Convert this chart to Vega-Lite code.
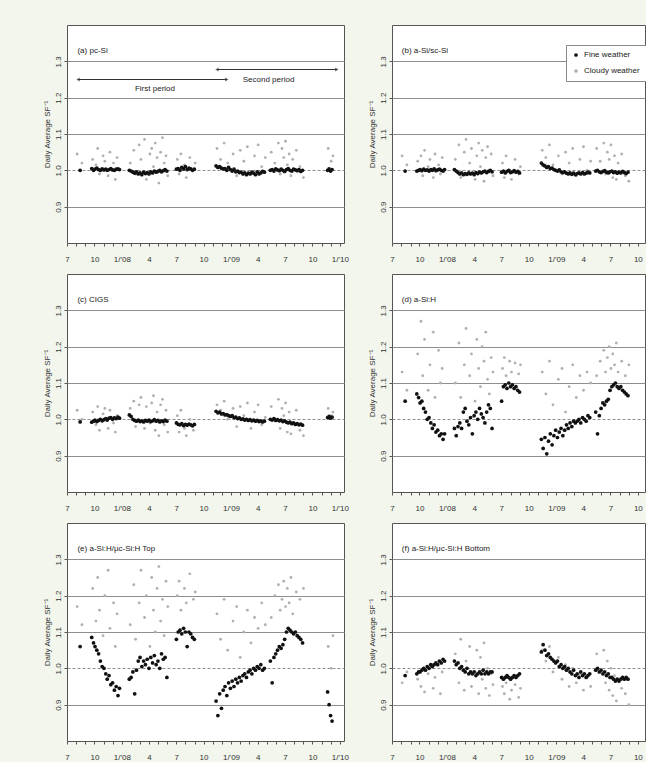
{
"$schema": "https://vega.github.io/schema/vega-lite/v6.json",
"background": "#f2f6ec",
"padding": {"left": 42, "top": 24, "right": 0, "bottom": 0},
"config": {
  "font": "Liberation Sans",
  "view": {"stroke": "#555555", "strokeWidth": 1, "fill": "white"},
  "axis": {"labelColor": "#333333", "tickColor": "#555555", "titleColor": "#333333"}
},
"datasets": {
"pts": [
{"t":"2007-08-14","w":"F","a":1.0,"b":0.998,"c":0.993,"d":1.05,"e":1.06,"f":0.98},
{"t":"2007-09-22","w":"F","a":1.005,"b":0.998,"c":0.992,"d":1.07,"e":1.085,"f":0.985},
{"t":"2007-09-28","w":"F","a":1.0,"b":1.0,"c":0.995,"d":1.06,"e":1.07,"f":0.99},
{"t":"2007-10-03","w":"F","a":1.003,"b":1.002,"c":0.998,"d":1.045,"e":1.06,"f":0.99},
{"t":"2007-10-09","w":"F","a":1.006,"b":0.999,"c":0.994,"d":1.05,"e":1.05,"f":0.995},
{"t":"2007-10-15","w":"F","a":1.002,"b":1.003,"c":0.997,"d":1.03,"e":1.04,"f":1.0},
{"t":"2007-10-21","w":"F","a":1.0,"b":1.0,"c":1.0,"d":1.02,"e":1.02,"f":0.995},
{"t":"2007-10-27","w":"F","a":1.004,"b":1.001,"c":0.996,"d":1.0,"e":1.005,"f":1.005},
{"t":"2007-11-02","w":"F","a":1.001,"b":0.998,"c":0.999,"d":1.005,"e":1.0,"f":1.0},
{"t":"2007-11-08","w":"F","a":1.003,"b":1.002,"c":1.002,"d":0.99,"e":0.985,"f":1.01},
{"t":"2007-11-13","w":"F","a":1.0,"b":1.0,"c":0.998,"d":0.975,"e":0.97,"f":1.005},
{"t":"2007-11-19","w":"F","a":1.002,"b":1.004,"c":1.003,"d":0.985,"e":0.98,"f":1.01},
{"t":"2007-11-25","w":"F","a":1.005,"b":0.999,"c":1.005,"d":0.965,"e":0.955,"f":1.015},
{"t":"2007-12-01","w":"F","a":1.001,"b":1.001,"c":1.0,"d":0.97,"e":0.96,"f":1.01},
{"t":"2007-12-07","w":"F","a":1.0,"b":1.003,"c":1.004,"d":0.955,"e":0.94,"f":1.02},
{"t":"2007-12-13","w":"F","a":1.003,"b":1.0,"c":1.002,"d":0.96,"e":0.95,"f":1.015},
{"t":"2007-12-19","w":"F","a":1.004,"b":0.998,"c":1.006,"d":0.945,"e":0.925,"f":1.025},
{"t":"2007-12-24","w":"F","a":1.002,"b":1.002,"c":1.003,"d":0.96,"e":0.945,"f":1.02},
{"t":"2008-01-26","w":"F","a":1.0,"b":1.002,"c":1.012,"d":0.975,"e":0.97,"f":1.02},
{"t":"2008-02-01","w":"F","a":0.998,"b":0.998,"c":1.008,"d":0.955,"e":0.975,"f":1.01},
{"t":"2008-02-07","w":"F","a":0.995,"b":0.994,"c":1.0,"d":0.98,"e":0.99,"f":1.015},
{"t":"2008-02-13","w":"F","a":0.992,"b":0.99,"c":0.997,"d":0.99,"e":0.93,"f":1.0},
{"t":"2008-02-19","w":"F","a":0.996,"b":0.993,"c":0.995,"d":0.975,"e":0.995,"f":1.005},
{"t":"2008-02-25","w":"F","a":0.99,"b":0.988,"c":0.998,"d":1.02,"e":1.02,"f":0.995},
{"t":"2008-03-02","w":"F","a":0.993,"b":0.991,"c":0.994,"d":1.03,"e":1.03,"f":0.99},
{"t":"2008-03-08","w":"F","a":0.988,"b":0.989,"c":0.996,"d":0.995,"e":1.005,"f":1.0},
{"t":"2008-03-14","w":"F","a":0.995,"b":0.993,"c":0.993,"d":0.985,"e":1.02,"f":0.985},
{"t":"2008-03-20","w":"F","a":0.991,"b":0.99,"c":0.997,"d":1.005,"e":1.01,"f":0.99},
{"t":"2008-03-26","w":"F","a":0.994,"b":0.992,"c":0.995,"d":0.96,"e":1.025,"f":0.985},
{"t":"2008-04-01","w":"F","a":0.99,"b":0.988,"c":0.998,"d":1.01,"e":1.0,"f":0.99},
{"t":"2008-04-07","w":"F","a":0.996,"b":0.994,"c":0.994,"d":1.02,"e":1.03,"f":0.98},
{"t":"2008-04-13","w":"F","a":0.993,"b":0.991,"c":0.996,"d":1.0,"e":1.015,"f":0.985},
{"t":"2008-04-19","w":"F","a":0.998,"b":0.995,"c":0.999,"d":1.03,"e":1.035,"f":0.99},
{"t":"2008-04-25","w":"F","a":0.995,"b":0.993,"c":0.995,"d":1.015,"e":1.01,"f":0.985},
{"t":"2008-05-01","w":"F","a":0.997,"b":0.996,"c":0.997,"d":1.005,"e":1.02,"f":0.995},
{"t":"2008-05-07","w":"F","a":1.0,"b":0.998,"c":0.993,"d":0.99,"e":1.0,"f":0.985},
{"t":"2008-05-13","w":"F","a":0.996,"b":0.994,"c":0.996,"d":1.02,"e":1.04,"f":0.99},
{"t":"2008-05-19","w":"F","a":0.999,"b":0.997,"c":0.994,"d":1.04,"e":1.025,"f":0.985},
{"t":"2008-05-25","w":"F","a":1.002,"b":1.0,"c":0.998,"d":1.03,"e":1.03,"f":0.99},
{"t":"2008-05-31","w":"F","a":0.998,"b":0.996,"c":0.995,"d":0.975,"e":0.975,"f":0.99},
{"t":"2008-07-02","w":"F","a":1.003,"b":0.995,"c":0.99,"d":1.05,"e":1.08,"f":0.975},
{"t":"2008-07-08","w":"F","a":1.005,"b":0.998,"c":0.986,"d":1.09,"e":1.1,"f":0.97},
{"t":"2008-07-14","w":"F","a":1.0,"b":0.993,"c":0.985,"d":1.095,"e":1.105,"f":0.975},
{"t":"2008-07-20","w":"F","a":1.008,"b":0.997,"c":0.988,"d":1.085,"e":1.095,"f":0.98},
{"t":"2008-07-26","w":"F","a":1.004,"b":1.0,"c":0.983,"d":1.1,"e":1.11,"f":0.975},
{"t":"2008-08-01","w":"F","a":1.01,"b":0.994,"c":0.986,"d":1.09,"e":1.1,"f":0.97},
{"t":"2008-08-07","w":"F","a":1.002,"b":0.996,"c":0.984,"d":1.095,"e":1.06,"f":0.975},
{"t":"2008-08-13","w":"F","a":1.006,"b":0.999,"c":0.987,"d":1.085,"e":1.1,"f":0.98},
{"t":"2008-08-19","w":"F","a":1.004,"b":0.995,"c":0.985,"d":1.09,"e":1.095,"f":0.975},
{"t":"2008-08-25","w":"F","a":1.0,"b":0.997,"c":0.982,"d":1.08,"e":1.085,"f":0.98},
{"t":"2008-08-31","w":"F","a":1.003,"b":0.993,"c":0.986,"d":1.075,"e":1.08,"f":0.985},
{"t":"2008-11-12","w":"F","a":1.012,"b":1.02,"c":1.022,"d":0.945,"e":0.91,"f":1.045},
{"t":"2008-11-18","w":"F","a":1.008,"b":1.015,"c":1.018,"d":0.92,"e":0.87,"f":1.065},
{"t":"2008-11-24","w":"F","a":1.01,"b":1.012,"c":1.02,"d":0.95,"e":0.93,"f":1.05},
{"t":"2008-11-30","w":"F","a":1.006,"b":1.008,"c":1.015,"d":0.905,"e":0.89,"f":1.035},
{"t":"2008-12-06","w":"F","a":1.004,"b":1.01,"c":1.016,"d":0.94,"e":0.94,"f":1.04},
{"t":"2008-12-12","w":"F","a":1.005,"b":1.005,"c":1.012,"d":0.96,"e":0.95,"f":1.03},
{"t":"2008-12-18","w":"F","a":1.0,"b":1.006,"c":1.013,"d":0.93,"e":0.925,"f":1.025},
{"t":"2008-12-24","w":"F","a":1.008,"b":1.002,"c":1.01,"d":0.955,"e":0.96,"f":1.02},
{"t":"2008-12-30","w":"F","a":1.002,"b":1.0,"c":1.008,"d":0.97,"e":0.945,"f":1.015},
{"t":"2009-01-05","w":"F","a":0.998,"b":0.998,"c":1.01,"d":0.95,"e":0.965,"f":1.02},
{"t":"2009-01-11","w":"F","a":1.003,"b":1.001,"c":1.005,"d":0.965,"e":0.95,"f":1.005},
{"t":"2009-01-17","w":"F","a":0.996,"b":0.996,"c":1.006,"d":0.975,"e":0.97,"f":1.01},
{"t":"2009-01-23","w":"F","a":0.998,"b":0.994,"c":1.002,"d":0.955,"e":0.96,"f":1.0},
{"t":"2009-01-29","w":"F","a":0.994,"b":0.996,"c":1.004,"d":0.97,"e":0.975,"f":1.005},
{"t":"2009-02-04","w":"F","a":0.995,"b":0.992,"c":1.0,"d":0.985,"e":0.965,"f":0.995},
{"t":"2009-02-10","w":"F","a":0.99,"b":0.99,"c":1.001,"d":0.975,"e":0.98,"f":1.0},
{"t":"2009-02-16","w":"F","a":0.993,"b":0.993,"c":0.998,"d":0.99,"e":0.985,"f":0.99},
{"t":"2009-02-22","w":"F","a":0.988,"b":0.989,"c":1.0,"d":0.98,"e":0.975,"f":0.985},
{"t":"2009-02-28","w":"F","a":0.992,"b":0.992,"c":0.997,"d":0.995,"e":0.99,"f":0.995},
{"t":"2009-03-06","w":"F","a":0.99,"b":0.988,"c":0.999,"d":0.99,"e":0.995,"f":0.98},
{"t":"2009-03-12","w":"F","a":0.995,"b":0.991,"c":0.996,"d":0.995,"e":0.985,"f":0.985},
{"t":"2009-03-18","w":"F","a":0.992,"b":0.993,"c":0.998,"d":1.0,"e":1.0,"f":0.975},
{"t":"2009-03-24","w":"F","a":0.988,"b":0.99,"c":0.995,"d":0.99,"e":0.995,"f":0.99},
{"t":"2009-03-30","w":"F","a":0.996,"b":0.994,"c":0.997,"d":1.005,"e":1.005,"f":0.98},
{"t":"2009-04-05","w":"F","a":0.99,"b":0.99,"c":0.994,"d":1.0,"e":1.0,"f":0.985},
{"t":"2009-04-11","w":"F","a":0.993,"b":0.992,"c":0.996,"d":0.995,"e":1.01,"f":0.975},
{"t":"2009-04-17","w":"F","a":0.997,"b":0.995,"c":0.993,"d":1.01,"e":0.995,"f":0.98},
{"t":"2009-04-23","w":"F","a":0.995,"b":0.993,"c":0.995,"d":1.005,"e":1.0,"f":0.985},
{"t":"2009-05-13","w":"F","a":1.0,"b":0.998,"c":1.0,"d":1.02,"e":1.02,"f":0.995},
{"t":"2009-05-19","w":"F","a":1.002,"b":1.0,"c":0.998,"d":0.96,"e":0.96,"f":1.0},
{"t":"2009-05-25","w":"F","a":0.998,"b":0.996,"c":1.002,"d":1.01,"e":1.03,"f":0.99},
{"t":"2009-05-31","w":"F","a":1.004,"b":0.994,"c":0.997,"d":1.03,"e":1.04,"f":0.995},
{"t":"2009-06-06","w":"F","a":1.001,"b":0.997,"c":0.999,"d":1.045,"e":1.05,"f":0.985},
{"t":"2009-06-12","w":"F","a":0.999,"b":0.999,"c":0.996,"d":1.04,"e":1.06,"f":0.99},
{"t":"2009-06-18","w":"F","a":1.003,"b":0.995,"c":0.998,"d":1.05,"e":1.055,"f":0.98},
{"t":"2009-06-24","w":"F","a":1.0,"b":0.993,"c":0.994,"d":1.055,"e":1.065,"f":0.985},
{"t":"2009-06-30","w":"F","a":0.997,"b":0.996,"c":0.996,"d":1.08,"e":1.08,"f":0.975},
{"t":"2009-07-06","w":"F","a":1.002,"b":0.998,"c":0.992,"d":1.09,"e":1.1,"f":0.975},
{"t":"2009-07-12","w":"F","a":1.005,"b":0.994,"c":0.99,"d":1.095,"e":1.11,"f":0.97},
{"t":"2009-07-18","w":"F","a":1.0,"b":0.996,"c":0.992,"d":1.1,"e":1.105,"f":0.965},
{"t":"2009-07-24","w":"F","a":0.998,"b":0.992,"c":0.988,"d":1.09,"e":1.1,"f":0.97},
{"t":"2009-07-30","w":"F","a":1.003,"b":0.995,"c":0.99,"d":1.085,"e":1.095,"f":0.965},
{"t":"2009-08-05","w":"F","a":1.001,"b":0.993,"c":0.986,"d":1.09,"e":1.1,"f":0.97},
{"t":"2009-08-11","w":"F","a":0.999,"b":0.997,"c":0.988,"d":1.08,"e":1.09,"f":0.975},
{"t":"2009-08-17","w":"F","a":1.002,"b":0.994,"c":0.985,"d":1.075,"e":1.085,"f":0.97},
{"t":"2009-08-23","w":"F","a":0.997,"b":0.991,"c":0.987,"d":1.07,"e":1.08,"f":0.975},
{"t":"2009-08-29","w":"F","a":1.0,"b":0.995,"c":0.984,"d":1.065,"e":1.07,"f":0.97},
{"t":"2009-11-21","w":"F","a":1.0,"b":1.0,"c":1.005,"d":0.97,"e":0.935,"f":0.98},
{"t":"2009-11-26","w":"F","a":1.004,"b":0.998,"c":1.008,"d":0.96,"e":0.9,"f":0.985},
{"t":"2009-12-01","w":"F","a":0.998,"b":1.002,"c":1.003,"d":0.95,"e":0.87,"f":0.975},
{"t":"2009-12-06","w":"F","a":1.002,"b":0.999,"c":1.006,"d":0.955,"e":0.855,"f":0.98},
{"t":"2007-08-04","w":"C","a":1.045,"b":1.04,"c":1.025,"d":1.13,"e":1.17,"f":0.96},
{"t":"2007-08-20","w":"C","a":1.02,"b":1.015,"c":1.0,"d":1.08,"e":1.12,"f":0.99},
{"t":"2007-09-25","w":"C","a":1.03,"b":1.025,"c":1.02,"d":1.18,"e":1.22,"f":0.97},
{"t":"2007-10-06","w":"C","a":1.015,"b":1.04,"c":0.985,"d":1.27,"e":1.13,"f":0.95},
{"t":"2007-10-12","w":"C","a":1.06,"b":0.985,"c":1.035,"d":1.12,"e":1.25,"f":1.0},
{"t":"2007-10-18","w":"C","a":0.99,"b":1.055,"c":0.97,"d":1.22,"e":1.16,"f":0.935},
{"t":"2007-10-30","w":"C","a":1.04,"b":1.01,"c":1.015,"d":1.08,"e":1.09,"f":0.985},
{"t":"2007-11-05","w":"C","a":1.025,"b":1.03,"c":1.03,"d":1.15,"e":1.2,"f":1.01},
{"t":"2007-11-16","w":"C","a":0.985,"b":0.98,"c":0.975,"d":1.24,"e":1.27,"f":0.945},
{"t":"2007-11-22","w":"C","a":1.05,"b":1.045,"c":1.025,"d":1.06,"e":1.11,"f":0.975},
{"t":"2007-12-04","w":"C","a":1.02,"b":1.015,"c":0.99,"d":1.19,"e":1.18,"f":1.02},
{"t":"2007-12-10","w":"C","a":0.975,"b":0.99,"c":0.965,"d":1.1,"e":1.06,"f":0.93},
{"t":"2007-12-16","w":"C","a":1.035,"b":1.035,"c":1.01,"d":1.14,"e":1.15,"f":0.99},
{"t":"2008-01-29","w":"C","a":1.02,"b":1.03,"c":1.03,"d":1.1,"e":1.12,"f":1.04},
{"t":"2008-02-10","w":"C","a":1.055,"b":1.07,"c":1.05,"d":1.21,"e":1.23,"f":0.96},
{"t":"2008-02-16","w":"C","a":0.99,"b":0.98,"c":0.98,"d":1.06,"e":1.08,"f":1.08},
{"t":"2008-02-28","w":"C","a":1.07,"b":1.05,"c":1.04,"d":1.15,"e":1.18,"f":0.94},
{"t":"2008-03-05","w":"C","a":1.03,"b":1.085,"c":1.06,"d":1.25,"e":1.27,"f":1.02},
{"t":"2008-03-17","w":"C","a":1.085,"b":1.02,"c":0.975,"d":1.12,"e":1.14,"f":1.06},
{"t":"2008-03-23","w":"C","a":0.975,"b":1.06,"c":1.035,"d":1.18,"e":1.2,"f":0.95},
{"t":"2008-04-04","w":"C","a":1.045,"b":0.975,"c":0.99,"d":1.05,"e":1.06,"f":0.99},
{"t":"2008-04-10","w":"C","a":1.06,"b":1.04,"c":1.045,"d":1.22,"e":1.25,"f":1.05},
{"t":"2008-04-16","w":"C","a":1.01,"b":1.075,"c":1.065,"d":1.14,"e":1.16,"f":0.93},
{"t":"2008-04-22","w":"C","a":1.075,"b":1.01,"c":0.97,"d":1.09,"e":1.1,"f":1.03},
{"t":"2008-04-28","w":"C","a":1.035,"b":1.055,"c":1.02,"d":1.2,"e":1.22,"f":0.97},
{"t":"2008-05-04","w":"C","a":0.965,"b":0.97,"c":0.955,"d":1.16,"e":1.28,"f":1.07},
{"t":"2008-05-10","w":"C","a":1.05,"b":1.035,"c":1.04,"d":1.24,"e":1.13,"f":0.945},
{"t":"2008-05-16","w":"C","a":1.09,"b":1.065,"c":1.055,"d":1.11,"e":1.19,"f":1.0},
{"t":"2008-05-22","w":"C","a":1.02,"b":1.0,"c":0.985,"d":1.07,"e":1.09,"f":0.925},
{"t":"2008-05-28","w":"C","a":1.04,"b":1.045,"c":1.025,"d":1.17,"e":1.24,"f":0.985},
{"t":"2008-06-03","w":"C","a":0.985,"b":0.985,"c":0.965,"d":1.13,"e":1.17,"f":0.955},
{"t":"2008-07-05","w":"C","a":1.03,"b":1.02,"c":1.01,"d":1.14,"e":1.2,"f":0.95},
{"t":"2008-07-11","w":"C","a":0.99,"b":0.98,"c":0.965,"d":1.17,"e":1.24,"f":0.93},
{"t":"2008-07-17","w":"C","a":1.045,"b":1.04,"c":1.025,"d":1.12,"e":1.16,"f":0.96},
{"t":"2008-07-29","w":"C","a":1.015,"b":1.0,"c":0.975,"d":1.16,"e":1.22,"f":0.915},
{"t":"2008-08-04","w":"C","a":0.98,"b":0.975,"c":0.955,"d":1.13,"e":1.18,"f":0.94},
{"t":"2008-08-16","w":"C","a":1.035,"b":1.03,"c":1.0,"d":1.155,"e":1.26,"f":0.955},
{"t":"2008-08-28","w":"C","a":1.0,"b":0.99,"c":0.97,"d":1.125,"e":1.19,"f":0.92},
{"t":"2008-09-03","w":"C","a":1.02,"b":1.01,"c":0.985,"d":1.15,"e":1.21,"f":0.945},
{"t":"2008-11-15","w":"C","a":1.06,"b":1.055,"c":1.04,"d":1.13,"e":1.15,"f":1.05},
{"t":"2008-11-27","w":"C","a":1.03,"b":1.035,"c":1.025,"d":1.07,"e":1.08,"f":1.02},
{"t":"2008-12-09","w":"C","a":1.075,"b":1.07,"c":1.05,"d":1.16,"e":1.19,"f":1.06},
{"t":"2008-12-21","w":"C","a":1.02,"b":1.015,"c":1.0,"d":1.04,"e":1.05,"f":0.99},
{"t":"2009-01-08","w":"C","a":1.045,"b":1.04,"c":1.03,"d":1.11,"e":1.13,"f":1.03},
{"t":"2009-01-20","w":"C","a":0.985,"b":0.99,"c":0.98,"d":1.14,"e":1.17,"f":0.97},
{"t":"2009-02-01","w":"C","a":1.055,"b":1.05,"c":1.035,"d":1.02,"e":1.03,"f":1.01},
{"t":"2009-02-13","w":"C","a":1.025,"b":1.02,"c":1.01,"d":1.09,"e":1.1,"f":0.95},
{"t":"2009-02-25","w":"C","a":1.065,"b":1.06,"c":1.045,"d":1.15,"e":1.16,"f":1.0},
{"t":"2009-03-09","w":"C","a":0.99,"b":0.985,"c":0.975,"d":1.06,"e":1.07,"f":0.96},
{"t":"2009-03-21","w":"C","a":1.04,"b":1.03,"c":1.02,"d":1.12,"e":1.14,"f":0.985},
{"t":"2009-04-02","w":"C","a":1.07,"b":1.065,"c":1.04,"d":1.08,"e":1.11,"f":0.94},
{"t":"2009-04-14","w":"C","a":1.01,"b":1.0,"c":0.985,"d":1.13,"e":1.18,"f":0.975},
{"t":"2009-04-26","w":"C","a":1.035,"b":1.025,"c":1.005,"d":1.1,"e":1.12,"f":0.95},
{"t":"2009-05-16","w":"C","a":1.05,"b":1.06,"c":1.035,"d":1.12,"e":1.14,"f":1.04},
{"t":"2009-05-28","w":"C","a":1.02,"b":1.025,"c":1.0,"d":1.16,"e":1.2,"f":0.99},
{"t":"2009-06-09","w":"C","a":1.075,"b":1.075,"c":1.055,"d":1.19,"e":1.23,"f":1.05},
{"t":"2009-06-15","w":"C","a":0.99,"b":0.99,"c":0.975,"d":1.13,"e":1.16,"f":0.96},
{"t":"2009-06-21","w":"C","a":1.06,"b":1.05,"c":1.03,"d":1.17,"e":1.19,"f":1.02},
{"t":"2009-06-27","w":"C","a":1.035,"b":1.03,"c":1.01,"d":1.2,"e":1.24,"f":0.94},
{"t":"2009-07-03","w":"C","a":1.08,"b":1.07,"c":1.045,"d":1.14,"e":1.17,"f":1.0},
{"t":"2009-07-09","w":"C","a":1.015,"b":0.98,"c":0.965,"d":1.18,"e":1.22,"f":0.925},
{"t":"2009-07-15","w":"C","a":1.045,"b":1.04,"c":1.02,"d":1.15,"e":1.18,"f":0.98},
{"t":"2009-07-21","w":"C","a":0.985,"b":0.975,"c":0.96,"d":1.21,"e":1.25,"f":0.91},
{"t":"2009-07-27","w":"C","a":1.03,"b":1.02,"c":0.99,"d":1.13,"e":1.15,"f":0.965},
{"t":"2009-08-08","w":"C","a":1.055,"b":1.045,"c":1.025,"d":1.16,"e":1.21,"f":0.945},
{"t":"2009-08-20","w":"C","a":1.01,"b":0.985,"c":0.97,"d":1.12,"e":1.19,"f":0.93},
{"t":"2009-09-01","w":"C","a":0.98,"b":0.97,"c":0.955,"d":1.15,"e":1.22,"f":0.9},
{"t":"2009-11-23","w":"C","a":1.06,"b":1.05,"c":1.03,"d":1.1,"e":1.06,"f":0.97},
{"t":"2009-12-03","w":"C","a":1.025,"b":1.02,"c":1.01,"d":1.06,"e":1.0,"f":0.95},
{"t":"2009-12-09","w":"C","a":1.04,"b":1.035,"c":1.02,"d":1.08,"e":1.09,"f":0.96}
],
"periods": [
{"lab":"First period","s":"2007-08-07","e":"2008-12-18","y":1.25,"lt":"2008-04-21","ly":1.225},
{"lab":"Second period","s":"2008-11-15","e":"2009-12-22","y":1.2775,"lt":"2009-05-07","ly":1.2475}
],
"one": [{}]
},
"data": {"name": "pts"},
"columns": 2,
"align": "each",
"spacing": {"row": 9, "column": 18},
"resolve": {"scale": {"color": "independent"}, "legend": {"color": "independent"}},
"concat": [
{
 "width": 277, "height": 218,
 "layer": [
  {"mark": {"type": "point", "filled": true, "clip": true, "opacity": 1},
   "encoding": {
    "x": {"field": "t", "type": "temporal", "scale": {"type": "utc", "domain": [{"year": 2007, "month": 7, "date": 1, "utc": true}, {"year": 2010, "month": 1, "date": 15, "utc": true}]},
          "axis": {"title": null, "grid": false, "domain": false, "tickCount": {"interval": "month", "step": 1}, "labelExpr": "utcmonth(datum.value) == 0 ? \"1/'\" + utcFormat(datum.value, '%y') : (utcmonth(datum.value) % 3 == 0 ? '' + (utcmonth(datum.value) + 1) : '')", "labelOverlap": false, "labelFlush": false, "labelFontSize": 8, "labelPadding": 9, "tickSize": 3}},
    "y": {"field": "a", "type": "quantitative", "scale": {"domain": [0.8275, 1.3725]},
          "axis": {"values": [0.9, 1.0, 1.1, 1.2, 1.3], "format": ".1f", "labelAngle": -90, "labelFontSize": 8, "labelPadding": 2, "tickSize": 3, "domain": false, "title": "Daily Average SF⁻¹", "titleFontSize": 8, "titleFontWeight": "normal", "titlePadding": 3, "grid": true, "gridColor": "#8f8f8f", "gridWidth": 1.2, "gridDash": {"condition": {"test": "datum.value === 1", "value": [3, 2]}, "value": []}}},
    "color": {"field": "w", "type": "nominal", "scale": {"domain": ["F", "C"], "range": ["#111111", "#b0b0b0"]}, "legend": null},
    "size": {"field": "w", "type": "nominal", "scale": {"domain": ["F", "C"], "range": [14, 8]}, "legend": null},
    "order": {"field": "w", "type": "ordinal", "sort": "ascending"}
   }},
  {"data": {"name": "periods"}, "mark": {"type": "rule", "color": "#333333", "strokeWidth": 1},
   "encoding": {"x": {"field": "s", "type": "temporal"}, "x2": {"field": "e"}, "y": {"field": "y", "type": "quantitative"}}},
  {"data": {"name": "periods"}, "mark": {"type": "point", "shape": "triangle-left", "filled": true, "color": "#333333", "size": 16},
   "encoding": {"x": {"field": "s", "type": "temporal"}, "y": {"field": "y", "type": "quantitative"}}},
  {"data": {"name": "periods"}, "mark": {"type": "point", "shape": "triangle-right", "filled": true, "color": "#333333", "size": 16},
   "encoding": {"x": {"field": "e", "type": "temporal"}, "y": {"field": "y", "type": "quantitative"}}},
  {"data": {"name": "periods"}, "mark": {"type": "text", "fontSize": 8, "color": "#222222", "baseline": "middle"},
   "encoding": {"x": {"field": "lt", "type": "temporal"}, "y": {"field": "ly", "type": "quantitative"}, "text": {"field": "lab"}}},
  {"data": {"name": "one"}, "mark": {"type": "text", "align": "left", "baseline": "middle", "fontSize": 8, "color": "#222222"},
   "encoding": {"x": {"datum": {"year": 2007, "month": 8, "date": 5, "utc": true}}, "y": {"datum": 1.3275}, "text": {"value": "(a) pc-Si"}}}
 ]
},
{
 "width": 253, "height": 218,
 "layer": [
  {"mark": {"type": "point", "filled": true, "clip": true, "opacity": 1},
   "encoding": {
    "x": {"field": "t", "type": "temporal", "scale": {"type": "utc", "domain": [{"year": 2007, "month": 7, "date": 1, "utc": true}, {"year": 2009, "month": 10, "date": 25, "utc": true}]},
          "axis": {"title": null, "grid": false, "domain": false, "tickCount": {"interval": "month", "step": 1}, "labelExpr": "utcmonth(datum.value) == 0 ? \"1/'\" + utcFormat(datum.value, '%y') : (utcmonth(datum.value) % 3 == 0 ? '' + (utcmonth(datum.value) + 1) : '')", "labelOverlap": false, "labelFlush": false, "labelFontSize": 8, "labelPadding": 9, "tickSize": 3}},
    "y": {"field": "b", "type": "quantitative", "scale": {"domain": [0.8275, 1.3725]},
          "axis": {"values": [0.9, 1.0, 1.1, 1.2, 1.3], "format": ".1f", "labelAngle": -90, "labelFontSize": 8, "labelPadding": 2, "tickSize": 3, "domain": false, "title": "Daily Average SF⁻¹", "titleFontSize": 8, "titleFontWeight": "normal", "titlePadding": 3, "grid": true, "gridColor": "#8f8f8f", "gridWidth": 1.2, "gridDash": {"condition": {"test": "datum.value === 1", "value": [3, 2]}, "value": []}}},
    "color": {"field": "w", "type": "nominal", "scale": {"domain": ["F", "C"], "range": ["#111111", "#b0b0b0"]},
              "legend": {"orient": "none", "legendX": 174, "legendY": 20, "title": null, "labelExpr": "datum.label == 'F' ? 'Fine weather' : 'Cloudy weather'", "fillColor": "white", "strokeColor": "#888888", "padding": 6, "rowPadding": 8, "labelFontSize": 8, "symbolSize": 14, "symbolType": "circle", "labelColor": "#222222"}},
    "size": {"field": "w", "type": "nominal", "scale": {"domain": ["F", "C"], "range": [14, 8]}, "legend": null},
    "order": {"field": "w", "type": "ordinal", "sort": "ascending"}
   }},
  {"data": {"name": "one"}, "mark": {"type": "text", "align": "left", "baseline": "middle", "fontSize": 8, "color": "#222222"},
   "encoding": {"x": {"datum": {"year": 2007, "month": 8, "date": 3, "utc": true}}, "y": {"datum": 1.3275}, "text": {"value": "(b) a-Si/sc-Si"}}}
 ]
},
{
 "width": 277, "height": 218,
 "layer": [
  {"mark": {"type": "point", "filled": true, "clip": true, "opacity": 1},
   "encoding": {
    "x": {"field": "t", "type": "temporal", "scale": {"type": "utc", "domain": [{"year": 2007, "month": 7, "date": 1, "utc": true}, {"year": 2010, "month": 1, "date": 15, "utc": true}]},
          "axis": {"title": null, "grid": false, "domain": false, "tickCount": {"interval": "month", "step": 1}, "labelExpr": "utcmonth(datum.value) == 0 ? \"1/'\" + utcFormat(datum.value, '%y') : (utcmonth(datum.value) % 3 == 0 ? '' + (utcmonth(datum.value) + 1) : '')", "labelOverlap": false, "labelFlush": false, "labelFontSize": 8, "labelPadding": 9, "tickSize": 3}},
    "y": {"field": "c", "type": "quantitative", "scale": {"domain": [0.8275, 1.3725]},
          "axis": {"values": [0.9, 1.0, 1.1, 1.2, 1.3], "format": ".1f", "labelAngle": -90, "labelFontSize": 8, "labelPadding": 2, "tickSize": 3, "domain": false, "title": "Daily Average SF⁻¹", "titleFontSize": 8, "titleFontWeight": "normal", "titlePadding": 3, "grid": true, "gridColor": "#8f8f8f", "gridWidth": 1.2, "gridDash": {"condition": {"test": "datum.value === 1", "value": [3, 2]}, "value": []}}},
    "color": {"field": "w", "type": "nominal", "scale": {"domain": ["F", "C"], "range": ["#111111", "#b0b0b0"]}, "legend": null},
    "size": {"field": "w", "type": "nominal", "scale": {"domain": ["F", "C"], "range": [14, 8]}, "legend": null},
    "order": {"field": "w", "type": "ordinal", "sort": "ascending"}
   }},
  {"data": {"name": "one"}, "mark": {"type": "text", "align": "left", "baseline": "middle", "fontSize": 8, "color": "#222222"},
   "encoding": {"x": {"datum": {"year": 2007, "month": 8, "date": 5, "utc": true}}, "y": {"datum": 1.3275}, "text": {"value": "(c) CIGS"}}}
 ]
},
{
 "width": 253, "height": 218,
 "layer": [
  {"mark": {"type": "point", "filled": true, "clip": true, "opacity": 1},
   "encoding": {
    "x": {"field": "t", "type": "temporal", "scale": {"type": "utc", "domain": [{"year": 2007, "month": 7, "date": 1, "utc": true}, {"year": 2009, "month": 10, "date": 25, "utc": true}]},
          "axis": {"title": null, "grid": false, "domain": false, "tickCount": {"interval": "month", "step": 1}, "labelExpr": "utcmonth(datum.value) == 0 ? \"1/'\" + utcFormat(datum.value, '%y') : (utcmonth(datum.value) % 3 == 0 ? '' + (utcmonth(datum.value) + 1) : '')", "labelOverlap": false, "labelFlush": false, "labelFontSize": 8, "labelPadding": 9, "tickSize": 3}},
    "y": {"field": "d", "type": "quantitative", "scale": {"domain": [0.8275, 1.3725]},
          "axis": {"values": [0.9, 1.0, 1.1, 1.2, 1.3], "format": ".1f", "labelAngle": -90, "labelFontSize": 8, "labelPadding": 2, "tickSize": 3, "domain": false, "title": "Daily Average SF⁻¹", "titleFontSize": 8, "titleFontWeight": "normal", "titlePadding": 3, "grid": true, "gridColor": "#8f8f8f", "gridWidth": 1.2, "gridDash": {"condition": {"test": "datum.value === 1", "value": [3, 2]}, "value": []}}},
    "color": {"field": "w", "type": "nominal", "scale": {"domain": ["F", "C"], "range": ["#111111", "#b0b0b0"]}, "legend": null},
    "size": {"field": "w", "type": "nominal", "scale": {"domain": ["F", "C"], "range": [14, 8]}, "legend": null},
    "order": {"field": "w", "type": "ordinal", "sort": "ascending"}
   }},
  {"data": {"name": "one"}, "mark": {"type": "text", "align": "left", "baseline": "middle", "fontSize": 8, "color": "#222222"},
   "encoding": {"x": {"datum": {"year": 2007, "month": 8, "date": 3, "utc": true}}, "y": {"datum": 1.3275}, "text": {"value": "(d) a-Si:H"}}}
 ]
},
{
 "width": 277, "height": 218,
 "layer": [
  {"mark": {"type": "point", "filled": true, "clip": true, "opacity": 1},
   "encoding": {
    "x": {"field": "t", "type": "temporal", "scale": {"type": "utc", "domain": [{"year": 2007, "month": 7, "date": 1, "utc": true}, {"year": 2010, "month": 1, "date": 15, "utc": true}]},
          "axis": {"title": null, "grid": false, "domain": false, "tickCount": {"interval": "month", "step": 1}, "labelExpr": "utcmonth(datum.value) == 0 ? \"1/'\" + utcFormat(datum.value, '%y') : (utcmonth(datum.value) % 3 == 0 ? '' + (utcmonth(datum.value) + 1) : '')", "labelOverlap": false, "labelFlush": false, "labelFontSize": 8, "labelPadding": 9, "tickSize": 3}},
    "y": {"field": "e", "type": "quantitative", "scale": {"domain": [0.8275, 1.3725]},
          "axis": {"values": [0.9, 1.0, 1.1, 1.2, 1.3], "format": ".1f", "labelAngle": -90, "labelFontSize": 8, "labelPadding": 2, "tickSize": 3, "domain": false, "title": "Daily Average SF⁻¹", "titleFontSize": 8, "titleFontWeight": "normal", "titlePadding": 3, "grid": true, "gridColor": "#8f8f8f", "gridWidth": 1.2, "gridDash": {"condition": {"test": "datum.value === 1", "value": [3, 2]}, "value": []}}},
    "color": {"field": "w", "type": "nominal", "scale": {"domain": ["F", "C"], "range": ["#111111", "#b0b0b0"]}, "legend": null},
    "size": {"field": "w", "type": "nominal", "scale": {"domain": ["F", "C"], "range": [14, 8]}, "legend": null},
    "order": {"field": "w", "type": "ordinal", "sort": "ascending"}
   }},
  {"data": {"name": "one"}, "mark": {"type": "text", "align": "left", "baseline": "middle", "fontSize": 8, "color": "#222222"},
   "encoding": {"x": {"datum": {"year": 2007, "month": 8, "date": 5, "utc": true}}, "y": {"datum": 1.3275}, "text": {"value": "(e) a-Si:H/μc-Si:H Top"}}}
 ]
},
{
 "width": 253, "height": 218,
 "layer": [
  {"mark": {"type": "point", "filled": true, "clip": true, "opacity": 1},
   "encoding": {
    "x": {"field": "t", "type": "temporal", "scale": {"type": "utc", "domain": [{"year": 2007, "month": 7, "date": 1, "utc": true}, {"year": 2009, "month": 10, "date": 25, "utc": true}]},
          "axis": {"title": null, "grid": false, "domain": false, "tickCount": {"interval": "month", "step": 1}, "labelExpr": "utcmonth(datum.value) == 0 ? \"1/'\" + utcFormat(datum.value, '%y') : (utcmonth(datum.value) % 3 == 0 ? '' + (utcmonth(datum.value) + 1) : '')", "labelOverlap": false, "labelFlush": false, "labelFontSize": 8, "labelPadding": 9, "tickSize": 3}},
    "y": {"field": "f", "type": "quantitative", "scale": {"domain": [0.8275, 1.3725]},
          "axis": {"values": [0.9, 1.0, 1.1, 1.2, 1.3], "format": ".1f", "labelAngle": -90, "labelFontSize": 8, "labelPadding": 2, "tickSize": 3, "domain": false, "title": "Daily Average SF⁻¹", "titleFontSize": 8, "titleFontWeight": "normal", "titlePadding": 3, "grid": true, "gridColor": "#8f8f8f", "gridWidth": 1.2, "gridDash": {"condition": {"test": "datum.value === 1", "value": [3, 2]}, "value": []}}},
    "color": {"field": "w", "type": "nominal", "scale": {"domain": ["F", "C"], "range": ["#111111", "#b0b0b0"]}, "legend": null},
    "size": {"field": "w", "type": "nominal", "scale": {"domain": ["F", "C"], "range": [14, 8]}, "legend": null},
    "order": {"field": "w", "type": "ordinal", "sort": "ascending"}
   }},
  {"data": {"name": "one"}, "mark": {"type": "text", "align": "left", "baseline": "middle", "fontSize": 8, "color": "#222222"},
   "encoding": {"x": {"datum": {"year": 2007, "month": 8, "date": 3, "utc": true}}, "y": {"datum": 1.3275}, "text": {"value": "(f) a-Si:H/μc-Si:H Bottom"}}}
 ]
}
]
}
